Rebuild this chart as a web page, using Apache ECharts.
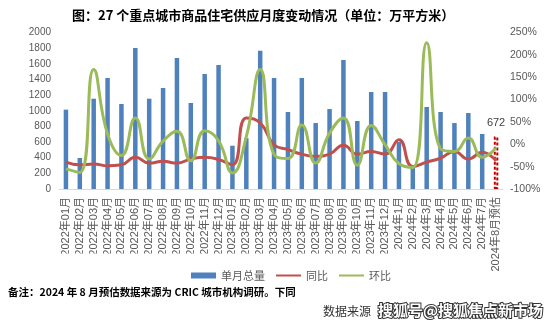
<!DOCTYPE html>
<html>
<head>
<meta charset="utf-8">
<script src="https://cdn.jsdelivr.net/npm/echarts@6/dist/echarts.min.js"></script>
<style>
  html, body { margin: 0; padding: 0; background: #fff; }
  #chart { width: 560px; height: 324px; }
</style>
</head>
<body>
<div id="chart"></div>
<script>
// Monthly new residential supply in 27 key cities (10k m²), with YoY / MoM change (%)
const categories = [
  '2022年01月', '2022年02月', '2022年03月', '2022年04月', '2022年05月', '2022年06月',
  '2022年07月', '2022年08月', '2022年09月', '2022年10月', '2022年11月', '2022年12月',
  '2023年01月', '2023年02月', '2023年03月', '2023年04月', '2023年05月', '2023年06月',
  '2023年07月', '2023年08月', '2023年09月', '2023年10月', '2023年11月', '2023年12月',
  '2024年1月', '2024年2月', '2024年3月', '2024年4月', '2024年5月', '2024年6月',
  '2024年7月', '2024年8月预估'
];
const supply = [1014, 396, 1154, 1419, 1086, 1802, 1154, 1291, 1674, 1099, 1470, 1585,
  553, 650, 1768, 1419, 984, 1419, 843, 1022, 1649, 869, 1240, 1240,
  600, 295, 1048, 984, 843, 971, 703, 672];
const yoy = [-40, -46, -44, -48, -46, -29, -42, -38, -42, -33, -29, -34,
  -46, 59, 48, -1, -12, -22, -27, -22, -2, -22, -16, -22,
  10, -50, -40, -31, -16, -33, -18, -37];
const mom = [-55, -63, 167, 23, -25, 59, -33, 7, 29, -37, 30, 8,
  -64, 17, 167, -23, -32, 43, -42, 25, 59, -47, 42, -1,
  -43, -52, 227, -10, -16, 14, -29, -8];
const leftTicks = { min: 0, max: 2000, interval: 200 };
const rightTicks = { min: -100, max: 250, interval: 50 };
const seriesNames = ['单月总量', '同比', '环比'];
const estimateIndex = categories.length - 1;

const labelColor = '#595959';

const barData = supply.map((v, i) => {
  if (i !== estimateIndex) return v;
  return {
    value: v,
    itemStyle: { color: 'rgba(255,255,255,0)', borderColor: '#C00000', borderWidth: 2, borderType: [3, 2] },
    label: { show: true, position: 'top', distance: 8, color: '#404040', fontSize: 11, fontFamily: 'Liberation Sans' }
  };
});

const chart = echarts.init(document.getElementById('chart'), null, { renderer: 'canvas' });
chart.setOption({
  animation: false,
  backgroundColor: '#ffffff',
  title: {
    text: '图：27 个重点城市商品住宅供应月度变动情况（单位：万平方米）',
    left: 67, top: 4,
    textStyle: { fontSize: 13, fontWeight: 'bold', color: '#000', fontFamily: 'Noto Sans CJK SC' }
  },
  grid: { left: 59, right: 57, top: 32.5, bottom: 135 },
  legend: {
    // line entries show only the stroke, no marker
    data: [
      { name: seriesNames[0], icon: 'rect' },
      { name: seriesNames[1], itemStyle: { opacity: 0 } },
      { name: seriesNames[2], itemStyle: { opacity: 0 } }
    ],
    left: 186, top: 265,
    itemWidth: 25, itemHeight: 6, itemGap: 10,
    textStyle: { color: labelColor, fontSize: 11, fontFamily: 'Noto Sans CJK SC' }
  },
  xAxis: {
    type: 'category',
    data: categories,
    axisLine: { lineStyle: { color: '#D9D9D9', width: 1 } },
    axisTick: { show: false },
    axisLabel: { rotate: 90, margin: 8, interval: 0, color: labelColor, fontSize: 11, fontFamily: 'Liberation Sans, Noto Sans CJK SC' }
  },
  yAxis: [
    {
      type: 'value', min: leftTicks.min, max: leftTicks.max, interval: leftTicks.interval,
      axisLine: { show: false }, axisTick: { show: false }, splitLine: { show: false },
      axisLabel: { color: labelColor, fontSize: 10, margin: 8, fontFamily: 'Liberation Sans', formatter: v => String(v) }
    },
    {
      type: 'value', min: rightTicks.min, max: rightTicks.max, interval: rightTicks.interval,
      axisLine: { show: false }, axisTick: { show: false }, splitLine: { show: false },
      axisLabel: { color: labelColor, fontSize: 10.5, margin: 7, fontFamily: 'Liberation Sans', formatter: v => v + '%' }
    }
  ],
  series: [
    {
      name: seriesNames[0], type: 'bar', data: barData, barWidth: 4.5,
      itemStyle: { color: '#4F81BD' }
    },
    {
      name: seriesNames[1], type: 'line', yAxisIndex: 1, data: yoy, smooth: 0.5,
      symbol: 'none', lineStyle: { color: '#C0504D', width: 3 }, itemStyle: { color: '#C0504D' }
    },
    {
      name: seriesNames[2], type: 'line', yAxisIndex: 1, data: mom, smooth: 0.5,
      symbol: 'none', lineStyle: { color: '#9BBB59', width: 3 }, itemStyle: { color: '#9BBB59' }
    }
  ],
  graphic: [
    // trims the lower ends of the month labels
    { type: 'rect', shape: { x: 55, y: 253.5, width: 430, height: 9 }, style: { fill: '#fff' }, z: 100 },
    {
      type: 'text', left: 8, top: 287,
      style: { text: '备注：2024 年 8 月预估数据来源为 CRIC 城市机构调研。下同', fill: '#000', font: 'bold 10.5px "Noto Sans CJK SC"' }
    },
    {
      type: 'text', left: 323, top: 305,
      style: { text: '数据来源', fill: '#333', font: '12px "Noto Sans CJK SC"' }
    },
    {
      type: 'text', left: 377, top: 302,
      style: { text: '搜狐号@搜狐焦点新市场', fill: '#fff', stroke: '#333', lineWidth: 2, font: 'bold 15px "Noto Sans CJK SC"' }
    }
  ]
});
</script>
</body>
</html>
